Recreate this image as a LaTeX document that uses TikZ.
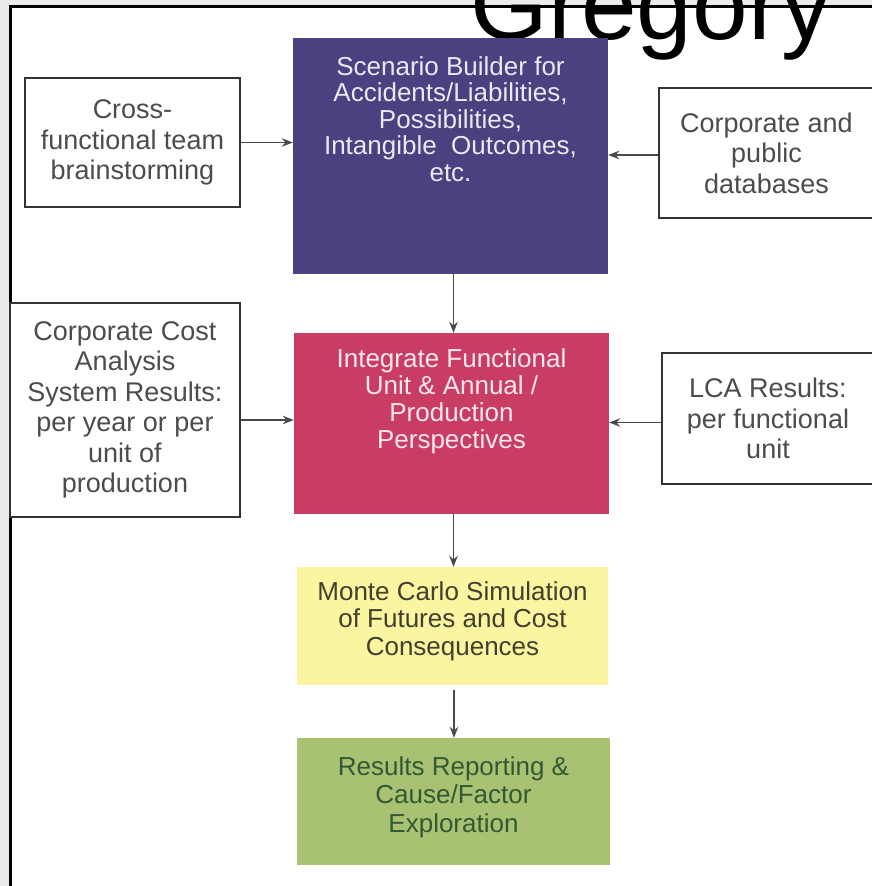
\documentclass[tikz,border=0pt]{standalone}
\usepackage{fontspec}
\setmainfont{Liberation Sans}
\usetikzlibrary{arrows.meta}

\definecolor{pagegray}{HTML}{EBEBE9}
\definecolor{scenblue}{HTML}{4C4080}
\definecolor{integred}{HTML}{C93C64}
\definecolor{monteyel}{HTML}{FAF5A0}
\definecolor{resgreen}{HTML}{A9C173}
\definecolor{linkgray}{HTML}{4A4A4A}

\tikzset{
  side/.style={draw=black!80, line width=1.5pt, fill=white, inner sep=0pt,
    align=center, text=black!70, font=\fontsize{27}{30.5}\selectfont},
  midbox/.style={inner sep=0pt, draw=none},
  midtxt/.style={inner sep=0pt, align=center, font=\fontsize{26}{26.5}\selectfont},
  link/.style={draw=linkgray, line width=1.4pt, -{Stealth[length=11pt,width=8.5pt]}},
}

\begin{document}
\begin{tikzpicture}[x=1pt, y=-1pt]
  \useasboundingbox (0,0) rectangle (872,886);
  \clip (0,0) rectangle (872,886);
  % page and frame
  \fill[pagegray] (0,0) rectangle (872,886);
  \fill[white] (10,6) rectangle (872,886);
  \draw[line width=2.5pt] (10.5,886) -- (10.5,6.5) -- (872,6.5);
  % title
  \node[inner sep=0pt, text depth=0pt, anchor=base west, font=\fontsize{100}{100}\selectfont] (title) at (470,39) {Gregory};
  % inputs
  \node[side, minimum width=215pt, minimum height=129pt] (cross) at (132.5,142.5) {Cross-\\functional team\\brainstorming};
  \node[side, minimum width=215pt, minimum height=130pt] (dbase) at (766.5,153) {Corporate and\\public\\databases};
  \node[side, minimum width=230pt, minimum height=214pt] (cost) at (125,410) {Corporate Cost\\Analysis\\System Results:\\per year or per\\unit of\\production};
  \node[side, minimum width=212pt, minimum height=131pt] (lca) at (768,418.5) {LCA Results:\\per functional\\unit};
  % main chain
  \node[midbox, fill=scenblue, minimum width=315pt, minimum height=236pt] (scen) at (450.5,156) {};
  \node[midtxt, text=white!88!scenblue] (scentxt) at (450.5,119) {Scenario Builder for\\Accidents/Liabilities,\\Possibilities,\\Intangible\ \ Outcomes,\\etc.};
  \node[midbox, fill=integred, minimum width=315pt, minimum height=181pt] (integ) at (451.5,423.5) {};
  \node[midtxt, text=white!88!integred, font=\fontsize{26}{27}\selectfont] (integtxt) at (451.5,401) {Integrate Functional\\Unit \& Annual /\\Production\\Perspectives};
  \node[midbox, fill=monteyel, minimum width=311pt, minimum height=118pt] (monte) at (452.5,626) {};
  \node[midtxt, text=black!70!olive, font=\fontsize{26}{27.5}\selectfont] (montetxt) at (452.5,621) {Monte Carlo Simulation\\of Futures and Cost\\Consequences};
  \node[midbox, fill=resgreen, minimum width=313pt, minimum height=127pt] (result) at (453.5,801.5) {};
  \node[midtxt, text=black!75!green!60!gray, font=\fontsize{26}{28.5}\selectfont] (resulttxt) at (453.5,797) {Results Reporting \&\\Cause/Factor\\Exploration};
  % connectors
  \draw[link] (cross.east) -- (cross.east -| scen.west);
  \draw[link] ([yshift=-2pt]dbase.west) -- ([yshift=-2pt]dbase.west -| scen.east);
  \draw[link] ([yshift=-10pt]cost.east) -- ([yshift=-10pt]cost.east -| integ.west);
  \draw[link] ([yshift=-4pt]lca.west) -- ([yshift=-4pt]lca.west -| integ.east);
  \draw[link] ([xshift=3pt]scen.south) -- ([xshift=3pt]scen.south |- integ.north);
  \draw[link] ([xshift=2pt]integ.south) -- ([xshift=2pt]integ.south |- monte.north);
  \draw[link] ([xshift=1.5pt,yshift=-5pt]monte.south) -- ([xshift=1.5pt]monte.south |- result.north);
\end{tikzpicture}
\end{document}
